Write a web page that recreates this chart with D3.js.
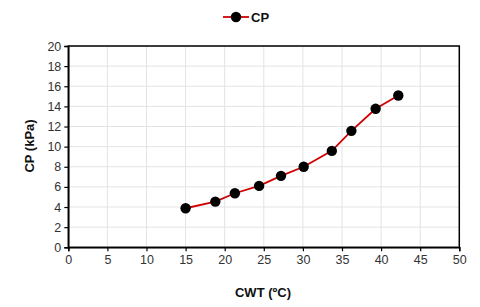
<!DOCTYPE html>
<html><head><meta charset="utf-8">
<script src="https://cdn.jsdelivr.net/npm/d3@7"></script>
<style>body{margin:0;background:#fff}svg{display:block}text{font-family:"Liberation Sans",Arial,sans-serif}</style>
</head><body><svg id="c" width="480" height="307"></svg>
<script>
const cwt = [15.0, 18.8, 21.3, 24.4, 27.2, 30.1, 33.7, 36.2, 39.3, 42.2];
const cp  = [3.88, 4.54, 5.37, 6.1, 7.1, 8.0, 9.58, 11.57, 13.76, 15.08];
const xTicks = [0,5,10,15,20,25,30,35,40,45,50];
const yTicks = [0,2,4,6,8,10,12,14,16,18,20];
const seriesName = "CP";

const svg = d3.select("#c");
const L=68.3,R=459.3,T=46,B=247.3;
const x = d3.scaleLinear().domain([0,50]).range([L,R]);
const y = d3.scaleLinear().domain([0,20]).range([B,T]);

const g = svg.append("g");
// grid
g.selectAll(".vg").data(xTicks).enter().append("line")
 .attr("x1",d=>x(d)).attr("x2",d=>x(d)).attr("y1",T).attr("y2",B)
 .attr("stroke","#e3e3e3").attr("stroke-width",1);
g.selectAll(".hg").data(yTicks).enter().append("line")
 .attr("y1",d=>y(d)).attr("y2",d=>y(d)).attr("x1",L).attr("x2",R)
 .attr("stroke","#e3e3e3").attr("stroke-width",1);
// frame
g.append("rect").attr("x",L).attr("y",T).attr("width",R-L).attr("height",B-T)
 .attr("fill","none").attr("stroke","#000").attr("stroke-width",1.5);

const xa = svg.append("g").attr("transform",`translate(0,${B})`)
 .call(d3.axisBottom(x).tickValues(xTicks).tickSize(4).tickPadding(4));
const ya = svg.append("g").attr("transform",`translate(${L},0)`)
 .call(d3.axisLeft(y).tickValues(yTicks).tickSize(4).tickPadding(3));
[xa,ya].forEach(a=>{
  a.select(".domain").attr("stroke","#000").attr("stroke-width",1.5);
  a.selectAll(".tick line").attr("stroke","#000").attr("stroke-width",1.2);
  a.selectAll(".tick text").attr("fill","#333").style("font-size","12.5px")
   .style("font-family","'Liberation Sans',Arial,sans-serif");
});

const pts = cwt.map((v,i)=>[v,cp[i]]);
svg.append("path").datum(pts)
 .attr("d",d3.line().x(d=>x(d[0])).y(d=>y(d[1])))
 .attr("fill","none").attr("stroke","#d00000").attr("stroke-width",1.8);
svg.selectAll(".pt").data(pts).enter().append("circle")
 .attr("cx",d=>x(d[0])).attr("cy",d=>y(d[1])).attr("r",5.2).attr("fill","#000");

// legend
const lg = svg.append("g");
lg.append("line").attr("x1",223).attr("x2",249).attr("y1",17).attr("y2",17)
 .attr("stroke","#d00000").attr("stroke-width",1.8);
lg.append("circle").attr("cx",236).attr("cy",17).attr("r",5.2).attr("fill","#000");
lg.append("text").attr("x",251).attr("y",21.5).text(seriesName)
 .style("font-size","13px").style("font-weight","bold").attr("fill","#111");

svg.append("text").attr("x",263).attr("y",297).attr("text-anchor","middle")
 .style("font-size","13px").style("font-weight","bold").attr("fill","#111").text("CWT (ºC)");
svg.append("text").attr("transform","translate(34,146) rotate(-90)").attr("text-anchor","middle")
 .style("font-size","13px").style("font-weight","bold").attr("fill","#111").text("CP (kPa)");
</script></body></html>
